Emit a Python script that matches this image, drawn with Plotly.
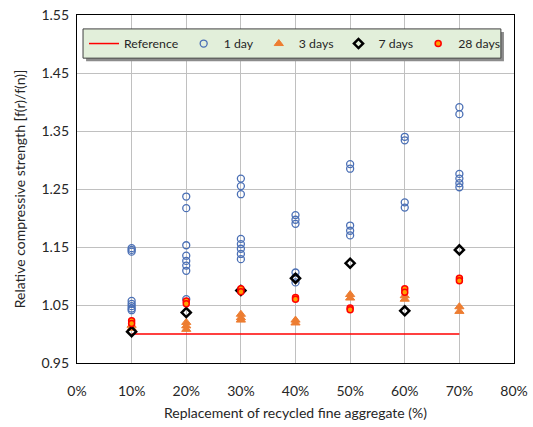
import plotly.graph_objects as go

# Replacement ratio (%) and relative strength values
ref_x = [10, 70]
ref_y = [1.0, 1.0]

day1_x = [10]*8 + [20]*8 + [30]*8 + [40]*6 + [50]*5 + [60]*4 + [70]*6
day1_y = [1.148, 1.145, 1.142, 1.057, 1.052, 1.048, 1.044, 1.041,
          1.237, 1.217, 1.153, 1.135, 1.126, 1.118, 1.109, 1.060,
          1.268, 1.255, 1.241, 1.164, 1.155, 1.147, 1.138, 1.129,
          1.205, 1.197, 1.190, 1.106, 1.098, 1.089,
          1.293, 1.285, 1.187, 1.178, 1.170,
          1.340, 1.334, 1.227, 1.218,
          1.391, 1.379, 1.276, 1.268, 1.260, 1.253]

day3_x = [10, 10, 20, 20, 20, 30, 30, 30, 40, 40, 50, 50, 60, 60, 70, 70]
day3_y = [1.015, 1.010, 1.020, 1.014, 1.008, 1.034, 1.028, 1.024, 1.024, 1.019,
          1.068, 1.062, 1.066, 1.060, 1.047, 1.039]

day7_x = [10, 20, 30, 40, 50, 60, 70]
day7_y = [1.004, 1.037, 1.075, 1.096, 1.122, 1.040, 1.145]

day28_x = [10, 10, 20, 20, 30, 30, 40, 40, 50, 50, 60, 60, 70, 70]
day28_y = [1.023, 1.018, 1.057, 1.052, 1.078, 1.073, 1.063, 1.060,
           1.045, 1.042, 1.078, 1.072, 1.096, 1.092]

x_ticks = [0, 10, 20, 30, 40, 50, 60, 70, 80]
x_tick_labels = ["0%", "10%", "20%", "30%", "40%", "50%", "60%", "70%", "80%"]
y_ticks = [0.95, 1.05, 1.15, 1.25, 1.35, 1.45, 1.55]

FONT = "Lato"
TXT = "#262626"

fig = go.Figure()
fig.add_trace(go.Scatter(x=ref_x, y=ref_y, mode="lines", name="Reference",
                         line=dict(color="#ff0000", width=1.5)))
fig.add_trace(go.Scatter(x=day1_x, y=day1_y, mode="markers", name="1 day",
                         marker=dict(symbol="circle-open", size=7,
                                     color="#4a6fb5", line=dict(width=1.3))))
fig.add_trace(go.Scatter(x=day3_x, y=day3_y, mode="markers", name="3 days",
                         marker=dict(symbol="triangle-up", size=8,
                                     color="#ed7d31",
                                     line=dict(color="#ed7d31", width=1))))
fig.add_trace(go.Scatter(x=day7_x, y=day7_y, mode="markers", name="7 days",
                         marker=dict(symbol="diamond-open", size=7,
                                     color="#000000", line=dict(width=2.5))))
fig.add_trace(go.Scatter(x=day28_x, y=day28_y, mode="markers", name="28 days",
                         marker=dict(symbol="circle", size=6,
                                     color="#ffa000",
                                     line=dict(color="#ff0000", width=1.5))))

# legend box (shadow + frame) drawn as shapes
fig.add_shape(type="rect", xref="paper", yref="paper",
              x0=0.0208, x1=0.977, y0=0.867, y1=0.951,
              fillcolor="#8c8c8c", line=dict(width=0), layer="above")
fig.add_shape(type="rect", xref="paper", yref="paper",
              x0=0.0138, x1=0.970, y0=0.876, y1=0.960,
              fillcolor="#e2efda", line=dict(color="#404040", width=1),
              layer="above")

fig.update_layout(
    width=533, height=427,
    margin=dict(l=77, r=19, t=15, b=64),
    paper_bgcolor="white", plot_bgcolor="white",
    font=dict(family=FONT, size=14, color=TXT),
    showlegend=True,
    legend=dict(orientation="h", x=0.016, y=0.918, xanchor="left", yanchor="middle",
                bgcolor="rgba(0,0,0,0)", borderwidth=0,
                font=dict(family=FONT, size=12.3, color="#262626"),
                tracegroupgap=0, itemwidth=30),
    xaxis=dict(range=[0, 80], tickvals=x_ticks, ticktext=x_tick_labels,
               showgrid=True, gridcolor="#c0c0c0", gridwidth=1.3,
               showline=True, linecolor="#000000", linewidth=1.2, mirror=True,
               ticks="", zeroline=False, ticklabelstandoff=15, automargin=False,
               title=dict(text="Replacement of recycled fine aggregate (%)",
                          standoff=10, font=dict(size=14, color=TXT))),
    yaxis=dict(range=[0.95, 1.55], tickvals=y_ticks, tickformat=".2f",
               showgrid=True, gridcolor="#c0c0c0", gridwidth=1.3,
               showline=True, linecolor="#000000", linewidth=1.2, mirror=True,
               ticks="", zeroline=False, ticklabelstandoff=4, automargin=False,
               title=dict(text="Relative compressive strength <b>[</b>f(r)/f(n)]",
                          standoff=12, font=dict(size=14, color=TXT))),
)

fig.write_html("out.html")
